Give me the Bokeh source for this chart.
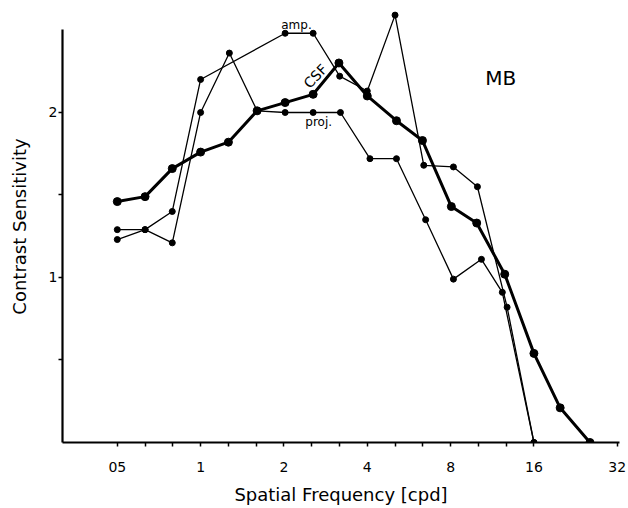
from bokeh.plotting import figure
from bokeh.models import FixedTicker, Label
from bokeh.embed import file_html
from bokeh.resources import INLINE

# Spatial frequency (cpd) and contrast sensitivity values
csf_freq = [0.5, 0.63, 0.79, 1.0, 1.26, 1.6, 2.02, 2.55, 3.16, 4.0, 5.1, 6.33, 8.05, 9.94, 12.55, 16.0, 19.9, 25.5]
csf_vals = [1.46, 1.49, 1.66, 1.76, 1.82, 2.01, 2.06, 2.11, 2.30, 2.10, 1.95, 1.83, 1.43, 1.33, 1.02, 0.54, 0.21, 0.0]

proj_freq = [0.5, 0.63, 0.79, 1.0, 1.27, 1.6, 2.02, 2.55, 3.2, 4.09, 5.1, 6.5, 8.19, 10.34, 12.3, 16.0]
proj_vals = [1.23, 1.29, 1.21, 2.00, 2.36, 2.01, 2.00, 2.00, 2.00, 1.72, 1.72, 1.35, 0.99, 1.11, 0.91, 0.0]

amp_freq = [0.5, 0.63, 0.79, 1.0, 2.02, 2.55, 3.18, 4.0, 5.04, 6.4, 8.19, 10.0, 12.8, 16.0]
amp_vals = [1.29, 1.29, 1.40, 2.20, 2.48, 2.48, 2.22, 2.13, 2.59, 1.68, 1.67, 1.55, 0.82, 0.0]

x_major = [0.5, 1, 2, 4, 8, 16, 32]
x_labels = ["05", "1", "2", "4", "8", "16", "32"]
x_minor = [0.5 * 2 ** (k / 3) for k in range(1, 16) if k % 3 != 0]
y_major = [1, 2]
y_minor = [0.5, 1.5]

FONT = "DejaVu Sans"

p = figure(width=628, height=508, x_axis_type="log",
           x_range=(0.317, 32.6), y_range=(0, 2.618),
           output_backend="svg", toolbar_location=None,
           min_border_left=62, min_border_right=9,
           min_border_top=10, min_border_bottom=66)
p.outline_line_color = None
p.grid.visible = False
p.background_fill_color = "white"

p.xaxis.ticker = FixedTicker(ticks=x_major, minor_ticks=x_minor)
p.xaxis.major_label_overrides = {v: t for v, t in zip(x_major, x_labels)}
p.yaxis.ticker = FixedTicker(ticks=y_major, minor_ticks=y_minor)
p.yaxis.bounds = (0, 2.5)

p.xaxis.axis_label = "Spatial Frequency [cpd]"
p.yaxis.axis_label = "Contrast Sensitivity"

for ax in (p.xaxis, p.yaxis):
    ax.axis_line_width = 2.2
    ax.axis_line_color = "black"
    ax.major_tick_line_width = 1.5
    ax.minor_tick_line_width = 1.5
    ax.major_tick_line_color = "black"
    ax.minor_tick_line_color = "black"
    ax.major_tick_in = 0
    ax.minor_tick_in = 0
    ax.major_tick_out = 4
    ax.minor_tick_out = 4
    ax.major_label_text_font = FONT
    ax.major_label_text_font_size = "14px"
    ax.major_label_text_color = "black"
    ax.axis_label_text_font = FONT
    ax.axis_label_text_font_size = "18px"
    ax.axis_label_text_font_style = "normal"
    ax.axis_label_text_color = "black"

p.xaxis.major_label_standoff = 15
p.xaxis.axis_label_standoff = 9
p.yaxis.major_label_standoff = 1
p.yaxis.axis_label_standoff = 16

# thin series
p.line(proj_freq, proj_vals, line_width=1.3, color="black")
p.scatter(proj_freq, proj_vals, size=6, color="black")
p.line(amp_freq, amp_vals, line_width=1.3, color="black")
p.scatter(amp_freq, amp_vals, size=6, color="black")
# CSF thick
p.line(csf_freq, csf_vals, line_width=3, color="black")
p.scatter(csf_freq, csf_vals, size=8, color="black")

# annotations
p.add_layout(Label(x=2.22, y=2.53, text="amp.", text_font=FONT, text_font_size="12px",
                   text_align="center", text_baseline="middle", text_color="black"))
p.add_layout(Label(x=2.6, y=2.22, text="CSF", text_font=FONT, text_font_size="14px", angle=0.8,
                   text_align="center", text_baseline="middle", text_color="black"))
p.add_layout(Label(x=2.67, y=1.94, text="proj.", text_font=FONT, text_font_size="12px",
                   text_align="center", text_baseline="middle", text_color="black"))
p.add_layout(Label(x=12.13, y=2.209, text="MB", text_font=FONT, text_font_size="20px",
                   text_align="center", text_baseline="middle", text_color="black"))

open("out.html", "w").write(file_html(p, INLINE))
